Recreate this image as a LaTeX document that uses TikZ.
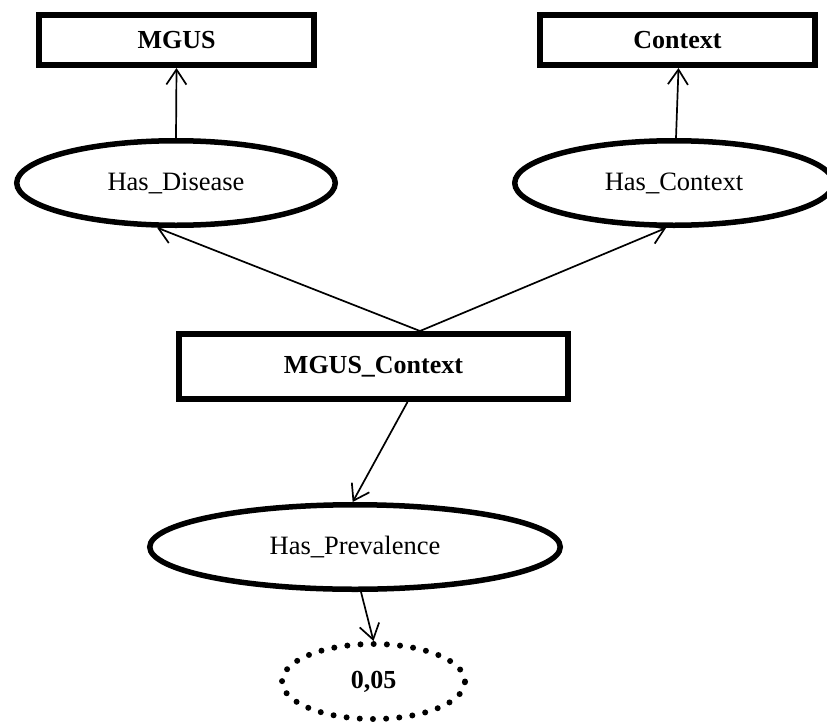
\documentclass[tikz,border=0pt]{standalone}
\usepackage{fontspec}
\setmainfont{Liberation Serif}
\usetikzlibrary{shapes.geometric,arrows.meta}
\begin{document}
\begin{tikzpicture}[x=1pt,y=-1pt,
  cls/.style={draw, line width=6pt, rectangle, inner sep=0pt, font=\fontsize{26}{30}\selectfont\bfseries},
  prop/.style={draw, line width=5.5pt, ellipse, inner sep=0pt, font=\fontsize{26.5}{30}\selectfont},
  val/.style={draw, line width=6pt, ellipse, inner sep=0pt, dash pattern=on 0pt off 13.2pt, line cap=round, font=\fontsize{26}{30}\selectfont\bfseries},
  conn/.style={line width=1.7pt, -{Straight Barb[length=15pt,width=20pt,line width=1.7pt]}}
]
\useasboundingbox (0,0) rectangle (827,723);
\node[cls, minimum width=275pt, minimum height=50pt] (mgus) at (176.5,40) {MGUS};
\node[cls, minimum width=275pt, minimum height=50pt] (ctx) at (677.5,40) {Context};
\node[prop, minimum width=318.5pt, minimum height=84.5pt] (hd) at (176,183) {Has\_Disease};
\node[prop, minimum width=318.5pt, minimum height=84.5pt] (hc) at (674,183) {Has\_Context};
\node[cls, minimum width=389pt, minimum height=65pt] (mc) at (373.5,366.5) {MGUS\_Context};
\node[prop, minimum width=410.5pt, minimum height=84.5pt] (hp) at (355,547) {Has\_Prevalence};
\node[val, minimum width=183pt, minimum height=75pt] (v) at (373.5,681.5) {0,05};
\draw[conn] (hd.north) -- (mgus.south);
\draw[conn] ([xshift=2pt]hc.north) -- ([xshift=1pt]ctx.south);
\draw[conn] ([xshift=46.5pt]mc.north) -- (hd.-113);
\draw[conn] ([xshift=46.5pt]mc.north) -- (hc.-100);
\draw[conn] ([xshift=34pt]mc.south) -- (hp.93);
\draw[conn] ([xshift=6pt]hp.south) -- (v.north);
\end{tikzpicture}
\end{document}
